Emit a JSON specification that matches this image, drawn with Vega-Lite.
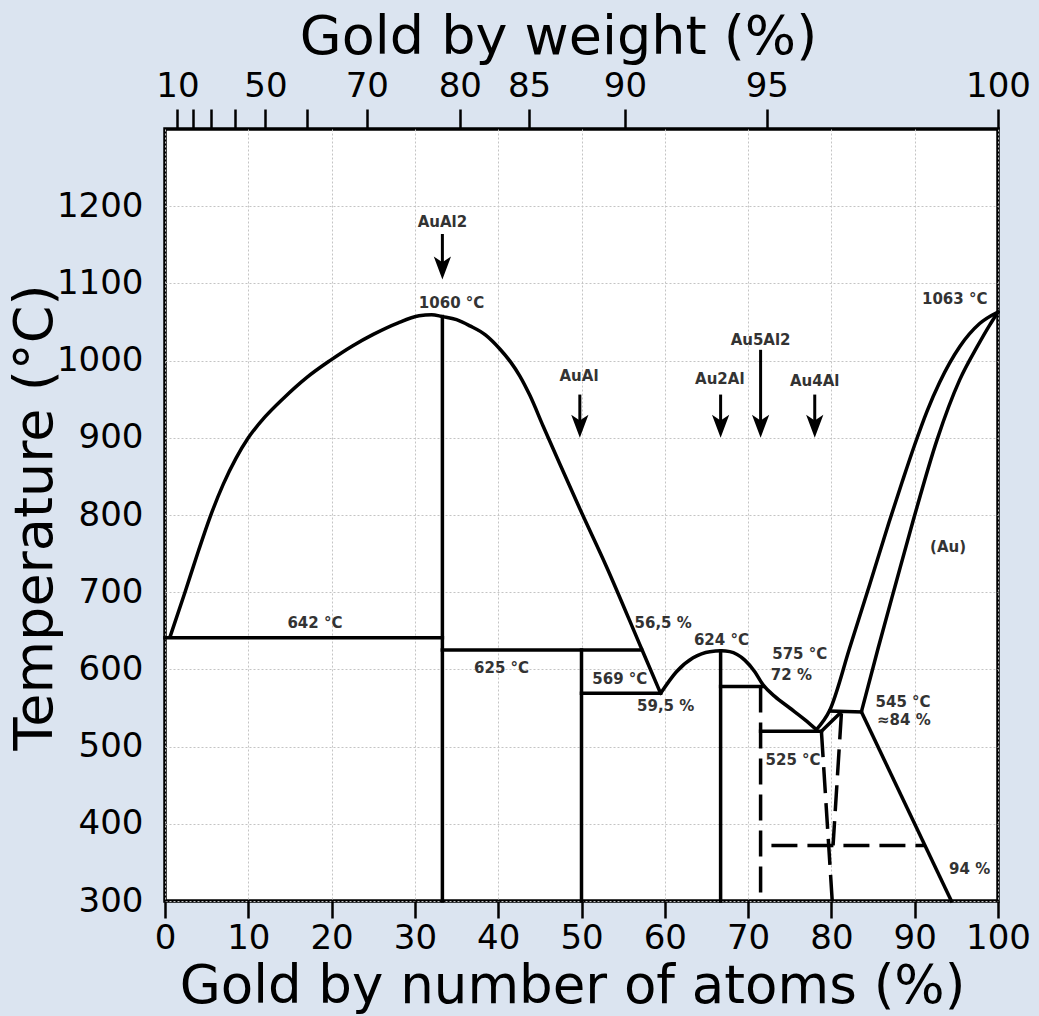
{
  "$schema": "https://vega.github.io/schema/vega-lite/v6.json",
  "width": 833,
  "height": 772,
  "autosize": {"type": "none"},
  "padding": {"left": 165, "top": 129, "right": 41, "bottom": 115},
  "background": "#dbe4f0",
  "config": {
    "font": "DejaVu Sans",
    "view": {"fill": "white", "stroke": "black", "strokeWidth": 3.5},
    "axis": {"labelFont": "DejaVu Sans", "titleFont": "DejaVu Sans", "labelColor": "black", "titleColor": "black", "titleFontWeight": "normal", "tickColor": "black", "domain": false}
  },
  "datasets": {
    "curves": [
      {"seg": "L1", "i": 0, "x": 0.6, "t": 642}, {"seg": "L1", "i": 1, "x": 2.4, "t": 700}, {"seg": "L1", "i": 2, "x": 4.0, "t": 753}, {"seg": "L1", "i": 3, "x": 5.4, "t": 797}, {"seg": "L1", "i": 4, "x": 7.0, "t": 840}, {"seg": "L1", "i": 5, "x": 8.5, "t": 873}, {"seg": "L1", "i": 6, "x": 10.0, "t": 900}, {"seg": "L1", "i": 7, "x": 12.0, "t": 927}, {"seg": "L1", "i": 8, "x": 14.2, "t": 951}, {"seg": "L1", "i": 9, "x": 17.0, "t": 978}, {"seg": "L1", "i": 10, "x": 19.8, "t": 1000}, {"seg": "L1", "i": 11, "x": 22.5, "t": 1019}, {"seg": "L1", "i": 12, "x": 25.0, "t": 1034}, {"seg": "L1", "i": 13, "x": 28.0, "t": 1049}, {"seg": "L1", "i": 14, "x": 30.5, "t": 1058}, {"seg": "L1", "i": 15, "x": 32.0, "t": 1059.5}, {"seg": "L1", "i": 16, "x": 33.3, "t": 1057}, {"seg": "L1", "i": 17, "x": 35.0, "t": 1053}, {"seg": "L1", "i": 18, "x": 36.6, "t": 1045}, {"seg": "L1", "i": 19, "x": 38.5, "t": 1033}, {"seg": "L1", "i": 20, "x": 40.2, "t": 1015}, {"seg": "L1", "i": 21, "x": 41.5, "t": 998}, {"seg": "L1", "i": 22, "x": 42.6, "t": 980}, {"seg": "L1", "i": 23, "x": 43.8, "t": 955}, {"seg": "L1", "i": 24, "x": 45.4, "t": 915}, {"seg": "L1", "i": 25, "x": 47.4, "t": 866}, {"seg": "L1", "i": 26, "x": 49.8, "t": 808}, {"seg": "L1", "i": 27, "x": 53.0, "t": 733}, {"seg": "L1", "i": 28, "x": 57.2, "t": 627}, {"seg": "L1", "i": 29, "x": 59.5, "t": 569},
      {"seg": "L2", "i": 0, "x": 59.5, "t": 569}, {"seg": "L2", "i": 1, "x": 61.4, "t": 597}, {"seg": "L2", "i": 2, "x": 63.4, "t": 615}, {"seg": "L2", "i": 3, "x": 65.4, "t": 623}, {"seg": "L2", "i": 4, "x": 66.8, "t": 624}, {"seg": "L2", "i": 5, "x": 67.8, "t": 623}, {"seg": "L2", "i": 6, "x": 69.6, "t": 612}, {"seg": "L2", "i": 7, "x": 70.8, "t": 597}, {"seg": "L2", "i": 8, "x": 71.8, "t": 580}, {"seg": "L2", "i": 9, "x": 73.2, "t": 565}, {"seg": "L2", "i": 10, "x": 75.0, "t": 550}, {"seg": "L2", "i": 11, "x": 76.8, "t": 535}, {"seg": "L2", "i": 12, "x": 78.2, "t": 522},
      {"seg": "L3", "i": 0, "x": 78.2, "t": 522}, {"seg": "L3", "i": 1, "x": 79.8, "t": 547}, {"seg": "L3", "i": 2, "x": 82.2, "t": 628}, {"seg": "L3", "i": 3, "x": 84.6, "t": 710}, {"seg": "L3", "i": 4, "x": 86.9, "t": 790}, {"seg": "L3", "i": 5, "x": 88.5, "t": 843}, {"seg": "L3", "i": 6, "x": 90.0, "t": 891}, {"seg": "L3", "i": 7, "x": 91.5, "t": 935}, {"seg": "L3", "i": 8, "x": 93.0, "t": 972}, {"seg": "L3", "i": 9, "x": 95.4, "t": 1018}, {"seg": "L3", "i": 10, "x": 97.8, "t": 1048}, {"seg": "L3", "i": 11, "x": 100, "t": 1063},
      {"seg": "L4", "i": 0, "x": 83.6, "t": 545}, {"seg": "L4", "i": 1, "x": 85.6, "t": 627}, {"seg": "L4", "i": 2, "x": 87.7, "t": 710}, {"seg": "L4", "i": 3, "x": 89.9, "t": 796}, {"seg": "L4", "i": 4, "x": 92.7, "t": 898}, {"seg": "L4", "i": 5, "x": 95.4, "t": 975}, {"seg": "L4", "i": 6, "x": 97.5, "t": 1018}, {"seg": "L4", "i": 7, "x": 99.0, "t": 1046}, {"seg": "L4", "i": 8, "x": 100, "t": 1063}
    ],
    "segments": [
      {"seg": "s642", "style": "solid", "i": 0, "x": 0, "t": 641}, {"seg": "s642", "style": "solid", "i": 1, "x": 33.3, "t": 641},
      {"seg": "v333", "style": "solid", "i": 0, "x": 33.3, "t": 300}, {"seg": "v333", "style": "solid", "i": 1, "x": 33.3, "t": 1057},
      {"seg": "s625", "style": "solid", "i": 0, "x": 33.3, "t": 625}, {"seg": "s625", "style": "solid", "i": 1, "x": 57.2, "t": 625},
      {"seg": "v50", "style": "solid", "i": 0, "x": 50, "t": 300}, {"seg": "v50", "style": "solid", "i": 1, "x": 50, "t": 625},
      {"seg": "s569", "style": "solid", "i": 0, "x": 50, "t": 569}, {"seg": "s569", "style": "solid", "i": 1, "x": 59.5, "t": 569},
      {"seg": "v667", "style": "solid", "i": 0, "x": 66.7, "t": 300}, {"seg": "v667", "style": "solid", "i": 1, "x": 66.7, "t": 624},
      {"seg": "s575", "style": "solid", "i": 0, "x": 66.7, "t": 578}, {"seg": "s575", "style": "solid", "i": 1, "x": 71.8, "t": 578},
      {"seg": "s525", "style": "solid", "i": 0, "x": 71.5, "t": 520}, {"seg": "s525", "style": "solid", "i": 1, "x": 78.8, "t": 520},
      {"seg": "sliver", "style": "solid", "i": 0, "x": 78.8, "t": 520}, {"seg": "sliver", "style": "solid", "i": 1, "x": 81.0, "t": 543},
      {"seg": "s545", "style": "solid", "i": 0, "x": 79.8, "t": 546}, {"seg": "s545", "style": "solid", "i": 1, "x": 83.6, "t": 545},
      {"seg": "solvus", "style": "solid", "i": 0, "x": 83.6, "t": 545}, {"seg": "solvus", "style": "solid", "i": 1, "x": 94.4, "t": 300},
      {"seg": "d715", "style": "dashed", "i": 0, "x": 71.5, "t": 578}, {"seg": "d715", "style": "dashed", "i": 1, "x": 71.5, "t": 300},
      {"seg": "dA", "style": "dashed", "i": 0, "x": 78.8, "t": 520}, {"seg": "dA", "style": "dashed", "i": 1, "x": 80.1, "t": 300},
      {"seg": "dB", "style": "dashed", "i": 0, "x": 81.2, "t": 543}, {"seg": "dB", "style": "dashed", "i": 1, "x": 80.2, "t": 372},
      {"seg": "d372", "style": "dashed", "i": 0, "x": 72.8, "t": 372}, {"seg": "d372", "style": "dashed", "i": 1, "x": 91.2, "t": 372}
    ],
    "arrows": [
      {"x": 33.3, "top": 1164, "neck": 1117, "tip": 1105},
      {"x": 49.8, "top": 956, "neck": 912, "tip": 900},
      {"x": 66.7, "top": 956, "neck": 912, "tip": 900},
      {"x": 71.5, "top": 1014, "neck": 912, "tip": 900},
      {"x": 78.0, "top": 956, "neck": 912, "tip": 900}
    ],
    "labels": [
      {"text": "AuAl2", "x": 33.3, "t": 1179},
      {"text": "AuAl", "x": 49.7, "t": 980},
      {"text": "Au2Al", "x": 66.6, "t": 976},
      {"text": "Au5Al2", "x": 71.5, "t": 1027},
      {"text": "Au4Al", "x": 78.0, "t": 973},
      {"text": "1060 °C", "x": 34.4, "t": 1075},
      {"text": "1063 °C", "x": 94.8, "t": 1080},
      {"text": "642 °C", "x": 18.0, "t": 660},
      {"text": "625 °C", "x": 40.4, "t": 602},
      {"text": "569 °C", "x": 54.6, "t": 587},
      {"text": "59,5 %", "x": 60.1, "t": 552},
      {"text": "56,5 %", "x": 59.8, "t": 660},
      {"text": "624 °C", "x": 66.8, "t": 638},
      {"text": "575 °C", "x": 76.2, "t": 620},
      {"text": "72 %", "x": 75.2, "t": 593},
      {"text": "545 °C", "x": 88.6, "t": 558},
      {"text": "≈84 %", "x": 88.7, "t": 535},
      {"text": "525 °C", "x": 75.4, "t": 483},
      {"text": "94 %", "x": 96.6, "t": 342},
      {"text": "(Au)", "x": 94.0, "t": 759}
    ]
  },
  "resolve": {"axis": {"x": "independent"}},
  "layer": [
    {
      "data": {"name": "segments"},
      "transform": [{"filter": "datum.style == 'solid'"}],
      "mark": {"type": "line", "color": "black", "strokeWidth": 3.5, "strokeCap": "square"},
      "encoding": {
        "x": {"field": "x", "type": "quantitative", "scale": {"domain": [0, 100], "nice": false, "zero": false},
          "axis": {"orient": "bottom", "values": [0, 10, 20, 30, 40, 50, 60, 70, 80, 90, 100], "tickSize": 17, "tickWidth": 2.5, "labelFontSize": 34, "labelPadding": 30, "labelBaseline": "alphabetic", "labelFlush": false, "labelOverlap": false, "labelBound": false, "grid": true, "gridColor": "#c4c4c4", "gridDash": [2, 2], "gridWidth": 1, "title": "Gold by number of atoms (%)", "titleFontSize": 53, "titleX": 407, "titleY": 101, "titleBaseline": "alphabetic", "titleAlign": "center"}},
        "y": {"field": "t", "type": "quantitative", "scale": {"domain": [300, 1300], "nice": false, "zero": false},
          "axis": {"orient": "left", "values": [300, 400, 500, 600, 700, 800, 900, 1000, 1100, 1200], "format": "d", "ticks": false, "tickSize": 0, "labelPadding": 22, "labelFontSize": 34, "labelBaseline": "middle", "labelOverlap": false, "labelFlush": false, "grid": true, "gridColor": "#c4c4c4", "gridDash": [2, 2], "gridWidth": 1, "title": "Temperature (°C)", "titleFontSize": 54, "titleX": -114, "titleY": 388, "titleBaseline": "alphabetic", "titleAlign": "center", "titleAngle": -90}},
        "detail": {"field": "seg"},
        "order": {"field": "i", "type": "quantitative"}
      }
    },
    {
      "data": {"name": "segments"},
      "transform": [{"filter": "datum.style == 'dashed'"}],
      "mark": {"type": "line", "color": "black", "strokeWidth": 3.5, "strokeDash": [26, 10], "strokeCap": "butt"},
      "encoding": {
        "x": {"field": "x", "type": "quantitative", "axis": null},
        "y": {"field": "t", "type": "quantitative"},
        "detail": {"field": "seg"},
        "order": {"field": "i", "type": "quantitative"}
      }
    },
    {
      "data": {"name": "curves"},
      "mark": {"type": "line", "color": "black", "strokeWidth": 3.5, "interpolate": "monotone", "strokeCap": "round"},
      "encoding": {
        "x": {"field": "x", "type": "quantitative", "axis": null},
        "y": {"field": "t", "type": "quantitative"},
        "detail": {"field": "seg"},
        "order": {"field": "i", "type": "quantitative"}
      }
    },
    {
      "data": {"name": "arrows"},
      "mark": {"type": "rule", "color": "black", "strokeWidth": 3},
      "encoding": {
        "x": {"field": "x", "type": "quantitative", "axis": null},
        "y": {"field": "top", "type": "quantitative"},
        "y2": {"field": "neck"}
      }
    },
    {
      "data": {"name": "arrows"},
      "mark": {"type": "point", "shape": "M0,0L-0.75,-2L0,-1.5L0.75,-2Z", "size": 529, "filled": true, "color": "black", "opacity": 1, "strokeWidth": 0},
      "encoding": {
        "x": {"field": "x", "type": "quantitative", "axis": null},
        "y": {"field": "tip", "type": "quantitative"}
      }
    },
    {
      "data": {"name": "labels"},
      "mark": {"type": "text", "font": "DejaVu Sans", "fontSize": 15, "fontWeight": "bold", "color": "#333333", "align": "center", "baseline": "middle"},
      "encoding": {
        "x": {"field": "x", "type": "quantitative",
          "axis": {"orient": "top", "values": [1.5, 3.31, 5.54, 8.37, 12.05, 17.05, 24.22, 35.39, 43.7, 55.21, 72.24, 100], "labelExpr": "datum.value == 1.5 ? '10' : datum.value == 12.05 ? '50' : datum.value == 24.22 ? '70' : datum.value == 35.39 ? '80' : datum.value == 43.7 ? '85' : datum.value == 55.21 ? '90' : datum.value == 72.24 ? '95' : datum.value == 100 ? '100' : ''", "tickSize": 20, "tickWidth": 2.5, "labelFontSize": 34, "labelPadding": 13, "labelBaseline": "alphabetic", "labelOverlap": false, "labelFlush": false, "labelBound": false, "grid": false, "title": "Gold by weight (%)", "titleFontSize": 54, "titleX": 393, "titleY": -76, "titleBaseline": "alphabetic", "titleAlign": "center"}},
        "y": {"field": "t", "type": "quantitative"},
        "text": {"field": "text"}
      }
    }
  ]
}
